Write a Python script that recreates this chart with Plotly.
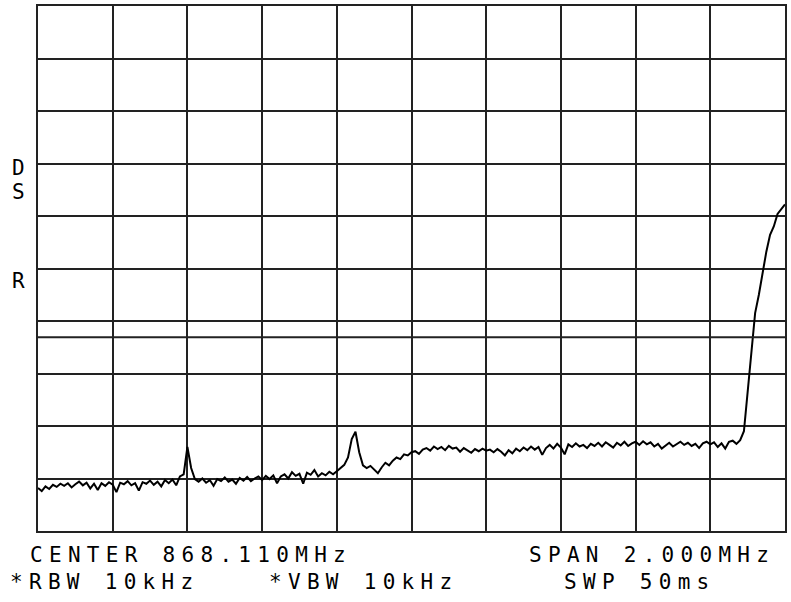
import plotly.graph_objects as go

# Frequency offset from centre (kHz), 10 kHz steps across the 2 MHz span
freq_offset_khz = list(range(-1000, 1001, 10))

# Trace amplitude (dBm, 10 dB/div, reference at top = 0 dBm)
amplitude_dbm = [
    # -1000 .. -610
    -91.8, -92.4, -91.5, -92.0, -91.2, -91.6, -91.0, -91.4, -90.9, -91.7,
    -91.1, -90.6, -91.3, -90.8, -91.9, -91.0, -92.2, -90.9, -91.4, -90.7,
    -91.2, -92.6, -90.8, -91.1, -90.5, -91.3, -90.9, -92.3, -90.7, -91.0,
    -90.4, -91.2, -90.6, -91.5, -90.3, -90.9, -90.2, -91.3, -89.6, -89.2,
    # -600 .. -210
    -84.0, -88.0, -90.1, -90.6, -90.0, -90.8, -90.3, -91.4, -90.1, -90.5,
    -89.8, -90.6, -90.2, -91.0, -89.9, -90.4, -89.7, -90.5, -90.0, -89.6,
    -90.3, -89.5, -90.1, -89.4, -90.9, -89.6, -89.2, -90.0, -88.8, -89.5,
    -89.1, -91.0, -88.9, -89.3, -88.4, -89.6, -89.0, -89.4, -88.7, -89.2,
    # -200 .. 190
    -88.6, -88.0, -87.4, -86.0, -82.5, -81.1, -85.0, -87.5, -88.0, -87.6,
    -88.4, -89.0, -87.9, -87.0, -87.5, -86.6, -86.0, -86.3, -85.4, -85.6,
    -85.0, -84.8, -85.3, -84.5, -84.2, -84.7, -83.9, -84.4, -84.0, -84.6,
    -83.8, -84.3, -84.1, -84.9, -84.2, -84.6, -85.1, -84.4, -84.8, -84.3,
    # 200 .. 590
    -84.7, -84.5, -85.0, -84.4, -84.9, -85.6, -84.6, -85.2, -84.3, -84.8,
    -84.1, -84.6, -83.9, -84.5, -84.0, -85.5, -84.2, -83.6, -84.3, -83.4,
    -84.1, -85.4, -83.5, -84.0, -83.3, -83.9, -83.6, -84.2, -83.4, -83.8,
    -83.2, -83.9, -83.1, -83.6, -84.1, -83.2, -83.7, -83.0, -83.8, -83.3,
    # 600 .. 990
    -83.0, -83.6, -82.9, -83.5, -83.1, -83.9, -83.4, -84.3, -83.7, -83.2,
    -83.9, -83.4, -83.0, -83.6, -83.2, -83.8, -83.4, -84.2, -83.3, -83.0,
    -83.5, -83.1, -84.0, -83.3, -84.3, -83.0, -82.8, -83.4, -82.7, -81.0,
    -73.5, -65.3, -58.5, -55.0, -50.8, -46.8, -43.6, -42.0, -39.6, -38.8,
    # 1000
    -37.8,
]

# Screen settings
ref_level_dbm = 0
db_per_div = 10
span_khz = 2000
display_line_dbm = -63.1

# Annotation texts
left_markers = ["D", "S", "R"]
center_text = "CENTER 868.110MHz"
span_text = "SPAN 2.000MHz"
rbw_text = "*RBW 10kHz"
vbw_text = "*VBW 10kHz"
swp_text = "SWP 50ms"

W, H = 791, 602
L, R, T, B = 38, 4, 5, 71
pw, ph = W - L - R, H - T - B


def px(xp):
    return (xp - L) / pw


def py(yp):
    return (H - B - yp) / ph


fig = go.Figure()
fig.add_trace(go.Scatter(
    x=freq_offset_khz, y=amplitude_dbm, mode="lines",
    line=dict(color="black", width=2), showlegend=False,
    hoverinfo="skip",
))

fig.add_shape(type="line", xref="paper", yref="y", x0=0, x1=1,
              y0=display_line_dbm, y1=display_line_dbm,
              line=dict(color="#222", width=2))

axis_common = dict(showticklabels=False, ticks="", showgrid=True,
                   gridcolor="#222", gridwidth=2, zeroline=False,
                   showline=True, linecolor="#222", linewidth=2, mirror=True)

fig.update_xaxes(range=[-span_khz / 2, span_khz / 2], dtick=span_khz / 10,
                 tick0=-span_khz / 2, **axis_common)
fig.update_yaxes(range=[ref_level_dbm - 10 * db_per_div, ref_level_dbm],
                 dtick=db_per_div, tick0=ref_level_dbm, **axis_common)

font = dict(family="DejaVu Sans Mono", size=21, color="black")


def txt(s):
    return '<span style="letter-spacing:6.3px">' + s + "</span>"


ann = []
ann.append(dict(text=left_markers[0], x=px(18), y=py(180), xanchor="center",
                yanchor="bottom", borderpad=0))
ann.append(dict(text=left_markers[1], x=px(18), y=py(178), xanchor="center",
                yanchor="top", borderpad=0))
ann.append(dict(text=left_markers[2], x=px(18), y=py(281), xanchor="center",
                yanchor="middle", borderpad=0))
ann.append(dict(text=txt(center_text), x=px(28), y=py(555), xanchor="left",
                yanchor="middle"))
ann.append(dict(text=txt(span_text), x=px(528), y=py(555), xanchor="left",
                yanchor="middle"))
ann.append(dict(text=txt(rbw_text), x=px(8), y=py(582), xanchor="left",
                yanchor="middle"))
ann.append(dict(text=txt(vbw_text), x=px(268), y=py(582), xanchor="left",
                yanchor="middle"))
ann.append(dict(text=txt(swp_text), x=px(563), y=py(582), xanchor="left",
                yanchor="middle"))
for a in ann:
    a.update(xref="paper", yref="paper", showarrow=False, font=font)

fig.update_layout(
    width=W, height=H, margin=dict(l=L, r=R, t=T, b=B, pad=0),
    paper_bgcolor="white", plot_bgcolor="white", annotations=ann,
)

fig.write_html(
    "out.html",
    config={"displayModeBar": False},
    post_script="document.body.style.margin='0';"
                "document.body.style.overflow='hidden';",
)
